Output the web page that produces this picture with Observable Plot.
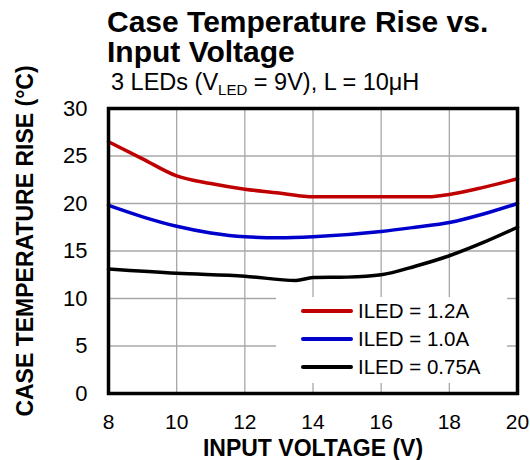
<!DOCTYPE html>
<html>
<head>
<meta charset="utf-8">
<script src="https://cdn.jsdelivr.net/npm/d3@7"></script>
<script src="https://cdn.jsdelivr.net/npm/@observablehq/plot@0.6"></script>
<style>
  html, body { margin: 0; padding: 0; background: #fff; }
  body { font-family: Arial, "Liberation Sans", sans-serif; }
  #wrap { position: relative; width: 530px; height: 460px; }
  #wrap svg { position: absolute; left: 0; top: 0; }
  #title { position: absolute; left: 107px; top: 7px; font-size: 30px; font-weight: bold; line-height: 30px; color: #000; white-space: nowrap; }
  #subtitle { position: absolute; left: 111px; top: 69px; font-size: 23.5px; line-height: 26px; color: #000; white-space: nowrap; }
  #subtitle sub { font-size: 15px; vertical-align: -5px; line-height: 0; }
  #legend { position: absolute; left: 276px; top: 297px; width: 231px; height: 86px; background: #fff; }
  .li { position: absolute; left: 25px; height: 22px; display: flex; align-items: center; font-size: 20.5px; white-space: nowrap; }
  .sw { width: 52px; height: 4px; border-radius: 2px; margin-right: 5px; }
</style>
</head>
<body>
<div id="wrap">
  <div id="title">Case Temperature Rise vs.<br>Input Voltage</div>
  <div id="subtitle">3 LEDs (V<sub>LED</sub> = 9V), L = 10μH</div>
</div>
<script>
// Data
const vRed   = [8, 9, 10, 11, 12, 13, 13.65, 14, 16, 17.4, 18, 19, 20];
const tRed   = [26.5, 24.7, 22.9, 22.1, 21.5, 21.1, 20.8, 20.7, 20.7, 20.7, 20.95, 21.7, 22.6];
const vBlue  = [8, 9, 10, 11, 12, 13, 14, 16, 17, 18, 19, 20];
const tBlue  = [19.8, 18.6, 17.6, 16.9, 16.5, 16.4, 16.5, 17.05, 17.5, 18.0, 18.9, 20.0];
const vBlack = [8, 10, 12, 13.5, 14, 15, 16, 17, 18, 19, 20];
const tBlack = [13.1, 12.65, 12.35, 11.9, 12.2, 12.25, 12.5, 13.4, 14.5, 15.9, 17.5];

const seriesNames  = ["ILED = 1.2A", "ILED = 1.0A", "ILED = 0.75A"];
const seriesColors = ["#c00000", "#0000cc", "#000000"];

const xTicks = [8, 10, 12, 14, 16, 18, 20];
const yTicks = [0, 5, 10, 15, 20, 25, 30];
const xTitle = "INPUT VOLTAGE (V)";
const yTitle = "CASE TEMPERATURE RISE (°C)";

const toRows = (vs, ts) => vs.map((v, i) => ({v, t: ts[i]}));
const series = [toRows(vRed, tRed), toRows(vBlue, tBlue), toRows(vBlack, tBlack)];

const chart = Plot.plot({
  width: 530,
  height: 460,
  marginTop: 108,
  marginBottom: 67,
  marginLeft: 108,
  marginRight: 13,
  style: {fontFamily: "Arial, 'Liberation Sans', sans-serif", fontSize: "21px", color: "#000", background: "transparent"},
  x: {domain: [8, 20]},
  y: {domain: [0, 30]},
  marks: [
    Plot.gridX(xTicks, {stroke: "#a8a8a8", strokeOpacity: 1, strokeWidth: 1.3}),
    Plot.gridY(yTicks, {stroke: "#a8a8a8", strokeOpacity: 1, strokeWidth: 1.3}),
    Plot.axisX(xTicks, {tickSize: 0, tickPadding: 21, fontSize: 21, label: null}),
    Plot.axisY(yTicks, {tickSize: 0, tickPadding: 21, fontSize: 22, label: null}),
    ...series.map((rows, i) => Plot.line(rows, {x: "v", y: "t", stroke: seriesColors[i], strokeWidth: 3.5, curve: "monotone-x"})),
    Plot.frame({stroke: "#000", strokeWidth: 3.5}),
    Plot.text([xTitle], {frameAnchor: "bottom", lineAnchor: "middle", dy: 55, fontSize: 23, fontWeight: "bold", fill: "#000"}),
    Plot.text([yTitle], {frameAnchor: "left", textAnchor: "middle", lineAnchor: "middle", rotate: -90, dx: -83, dy: -10, fontSize: 23, fontWeight: "bold", fill: "#000"})
  ]
});
const wrap = document.getElementById("wrap");
wrap.insertBefore(chart, wrap.firstChild);

// Legend (HTML, inside the plot area)
const legend = document.createElement("div");
legend.id = "legend";
const tops = [3, 31, 59];
seriesNames.forEach((name, i) => {
  const item = document.createElement("div");
  item.className = "li";
  item.style.top = tops[i] + "px";
  const sw = document.createElement("div");
  sw.className = "sw";
  sw.style.background = seriesColors[i];
  item.appendChild(sw);
  item.appendChild(document.createTextNode(name));
  legend.appendChild(item);
});
wrap.appendChild(legend);
</script>
</body>
</html>
